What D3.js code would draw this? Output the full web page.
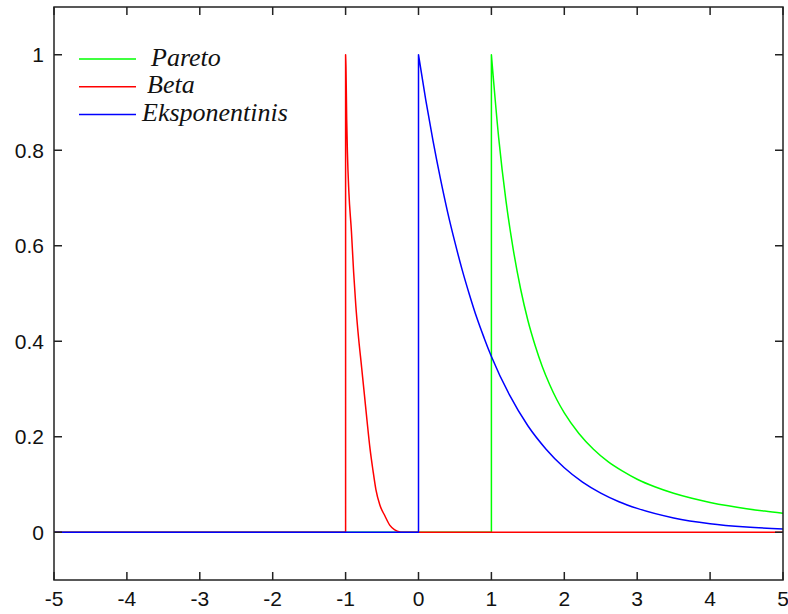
<!DOCTYPE html>
<html>
<head>
<meta charset="utf-8">
<script src="https://cdn.jsdelivr.net/npm/d3@7"></script>
<style>
  html, body { margin: 0; padding: 0; background: #ffffff; }
  svg { display: block; }
  .tick-label { font-family: "Liberation Sans", Arial, sans-serif; font-size: 21px; fill: #111; }
  .legend-label { font-family: "Liberation Serif", "Times New Roman", serif; font-style: italic; font-size: 26px; fill: #111; }
</style>
</head>
<body>
<svg id="chart" width="788" height="614"></svg>
<script>
// Series names and colours, in plotting order
const seriesNames = ["Pareto", "Beta", "Eksponentinis"];
const seriesColors = ["#00ff00", "#ff0000", "#0000ff"];

// Pareto density: zero below x = 1, then decaying tail
const paretoX = [-5, 1, 1, 1.1, 1.2, 1.3, 1.4, 1.5, 1.6, 1.7, 1.8, 1.9, 2.0, 2.2, 2.4, 2.6, 2.8, 3.0, 3.25, 3.5, 3.75, 4.0, 4.25, 4.5, 4.75, 5.0];
const paretoY = [0, 0, 1.000, 0.826, 0.694, 0.592, 0.510, 0.444, 0.391, 0.346, 0.309, 0.277, 0.250, 0.207, 0.174, 0.148, 0.128, 0.111, 0.0947, 0.0816, 0.0711, 0.0625, 0.0554, 0.0494, 0.0443, 0.040];

// Beta density (shifted): spike at x = -1, falling to zero near x = -0.25
const betaX = [-5, -1, -1.000, -0.995, -0.985, -0.975, -0.955, -0.920, -0.890, -0.860, -0.830, -0.780, -0.740, -0.705, -0.665, -0.625, -0.585, -0.530, -0.460, -0.395, -0.325, -0.245, 5];
const betaY = [0, 0, 1.000, 0.975, 0.865, 0.795, 0.712, 0.630, 0.545, 0.475, 0.420, 0.345, 0.285, 0.232, 0.175, 0.130, 0.090, 0.057, 0.034, 0.015, 0.005, 0.000, 0];

// Exponential density: zero below x = 0
const expoX = [-5, 0, 0, 0.1, 0.2, 0.3, 0.4, 0.5, 0.6, 0.7, 0.8, 0.9, 1.0, 1.25, 1.5, 1.75, 2.0, 2.25, 2.5, 2.75, 3.0, 3.5, 4.0, 4.5, 5.0];
const expoY = [0, 0, 1.000, 0.905, 0.819, 0.741, 0.670, 0.607, 0.549, 0.497, 0.449, 0.407, 0.368, 0.287, 0.223, 0.174, 0.135, 0.105, 0.082, 0.064, 0.050, 0.030, 0.018, 0.011, 0.0067];

// Axis ticks
const xTicks = [-5, -4, -3, -2, -1, 0, 1, 2, 3, 4, 5];
const yTicks = [0, 0.2, 0.4, 0.6, 0.8, 1];
const xDomain = [-5, 5];
const yDomain = [-0.1, 1.1];

const plot = { left: 54, right: 783, top: 7, bottom: 580 };
const svg = d3.select("#chart");

const x = d3.scaleLinear().domain(xDomain).range([plot.left, plot.right]);
const y = d3.scaleLinear().domain(yDomain).range([plot.bottom, plot.top]);

const series = [
  { xs: paretoX, ys: paretoY, peak: 2 },
  { xs: betaX, ys: betaY, peak: 2 },
  { xs: expoX, ys: expoY, peak: 2 }
];

const clip = svg.append("clipPath").attr("id", "plot-clip")
  .append("rect")
  .attr("x", plot.left).attr("y", plot.top)
  .attr("width", plot.right - plot.left).attr("height", plot.bottom - plot.top);

const lineLinear = d3.line().x(d => x(d[0])).y(d => y(d[1]));
const lineSmooth = d3.line().x(d => x(d[0])).y(d => y(d[1])).curve(d3.curveMonotoneX);

const curves = svg.append("g").attr("clip-path", "url(#plot-clip)");
series.forEach((s, i) => {
  const pts = s.xs.map((v, k) => [v, s.ys[k]]);
  // flat part and vertical jump, then the smooth decaying part
  const head = pts.slice(0, s.peak + 1);
  let tailEnd = pts.length;
  // keep a trailing flat segment (if any) linear
  let lastIdx = pts.length - 1;
  const tail = pts.slice(s.peak, lastIdx + 1);
  let d = lineLinear(head);
  const smoothPart = tail.filter((p, k) => k === 0 || p[0] > tail[k - 1][0]);
  // split off a final flat run along zero
  let cut = smoothPart.length;
  for (let k = 1; k < smoothPart.length; k++) {
    if (smoothPart[k][1] === 0 && smoothPart[k - 1][1] === 0) { cut = k; break; }
  }
  d += lineSmooth(smoothPart.slice(0, cut)).replace(/^M/, "L");
  if (cut < smoothPart.length) {
    d += lineLinear(smoothPart.slice(cut - 1)).replace(/^M/, "L");
  }
  curves.append("path")
    .attr("d", d)
    .attr("fill", "none")
    .attr("stroke", seriesColors[i])
    .attr("stroke-width", 1.5)
    .attr("stroke-linejoin", "round");
});

// Frame
const frameColor = "#222";
svg.append("rect")
  .attr("x", plot.left).attr("y", plot.top)
  .attr("width", plot.right - plot.left).attr("height", plot.bottom - plot.top)
  .attr("fill", "none").attr("stroke", frameColor).attr("stroke-width", 1.5);

const tickLen = 8;
const ticks = svg.append("g").attr("stroke", frameColor).attr("stroke-width", 1.5);
xTicks.forEach(t => {
  ticks.append("line").attr("x1", x(t)).attr("x2", x(t)).attr("y1", plot.bottom).attr("y2", plot.bottom - tickLen);
  ticks.append("line").attr("x1", x(t)).attr("x2", x(t)).attr("y1", plot.top).attr("y2", plot.top + tickLen);
});
yTicks.forEach(t => {
  ticks.append("line").attr("x1", plot.left).attr("x2", plot.left + tickLen).attr("y1", y(t)).attr("y2", y(t));
  ticks.append("line").attr("x1", plot.right).attr("x2", plot.right - tickLen).attr("y1", y(t)).attr("y2", y(t));
});

// Tick labels
const fmt = d => String(d);
svg.append("g").selectAll("text").data(xTicks).join("text")
  .attr("class", "tick-label")
  .attr("x", d => x(d))
  .attr("y", plot.bottom + 26)
  .attr("text-anchor", "middle")
  .text(fmt);

svg.append("g").selectAll("text").data(yTicks).join("text")
  .attr("class", "tick-label")
  .attr("x", plot.left - 10)
  .attr("y", d => y(d))
  .attr("dy", "0.36em")
  .attr("text-anchor", "end")
  .text(fmt);

// Legend
const legendTextX = [151, 147, 142];
const legend = svg.append("g");
seriesNames.forEach((name, i) => {
  const ly = 59 + i * 27.7;
  legend.append("line")
    .attr("x1", 79).attr("x2", 136)
    .attr("y1", ly).attr("y2", ly)
    .attr("stroke", seriesColors[i]).attr("stroke-width", 1.5);
  legend.append("text")
    .attr("class", "legend-label")
    .attr("x", legendTextX[i])
    .attr("y", ly + 6.5)
    .text(name);
});
</script>
</body>
</html>
